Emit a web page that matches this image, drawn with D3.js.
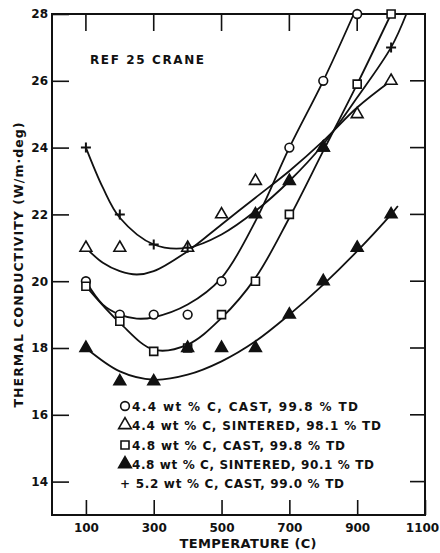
<!DOCTYPE html>
<html>
<head>
<meta charset="utf-8">
<script src="https://cdn.jsdelivr.net/npm/d3@7"></script>
<style>
  body { margin: 0; background: #fff; }
  text { font-family: "DejaVu Sans", sans-serif; fill: #111; }
</style>
</head>
<body>
<div id="my_dataviz"></div>
<script>
// tick values
var xTicks = [100, 300, 500, 700, 900, 1100]
var yTicks = [14, 16, 18, 20, 22, 24, 26, 28]

// measured points, [temperature, conductivity]
var cast44 = [[100,20],[200,19],[300,19],[400,19],[500,20],[700,24],[800,26],[900,28]]
var sint44 = [[100,21],[200,21],[400,21],[500,22],[600,23],[800,24],[900,25],[1000,26]]
var cast48 = [[100,19.85],[200,18.8],[300,17.9],[400,18],[500,19],[600,20],[700,22],[900,25.9],[1000,28]]
var sint48 = [[100,18],[200,17],[300,17],[400,18],[500,18],[600,18],[700,19],[800,20],[900,21],[1000,22],[600,22],[700,23],[800,24]]
var cast52 = [[100,24],[200,22],[300,21.1],[400,21],[1000,27]]

// hand drawn curves
var fitCast44 = [[100,20],[150,19.3],[200,19.0],[250,18.88],[300,18.92],[400,19.3],[500,20.1],[600,21.8],[700,24],[800,26],[890,28]]
var fitSint44 = [[100,21],[150,20.55],[200,20.3],[250,20.2],[300,20.3],[400,20.9],[500,21.7],[600,22.5],[700,23.3],[800,24.2],[900,25.2],[1000,26]]
var fitCast48 = [[100,19.85],[200,18.75],[300,17.95],[400,18.1],[500,18.9],[600,20.1],[700,21.9],[800,23.9],[900,25.9],[1000,28]]
var fitSint48 = [[100,18],[200,17.3],[300,17.05],[400,17.2],[500,17.6],[600,18.2],[700,19],[800,19.9],[900,20.9],[1000,22],[1020,22.25]]
var fitCast52 = [[100,24],[150,22.8],[200,21.9],[300,21.1],[400,21.0],[500,21.4],[600,22.1],[700,23],[800,24.1],[900,25.5],[1000,27],[1045,28]]

var legendLabels = [
  "4.4 wt % C, CAST, 99.8 % TD",
  "4.4 wt % C, SINTERED, 98.1 % TD",
  "4.8 wt % C, CAST, 99.8 % TD",
  "4.8 wt % C, SINTERED, 90.1 % TD",
  "+ 5.2 wt % C, CAST, 99.0 % TD"
]

var svg = d3.select("#my_dataviz").append("svg")
    .attr("width", 440)
    .attr("height", 553)

var pLeft = 52, pRight = 425, pTop = 14, pBottom = 515
var xs = d3.scaleLinear().domain([0, 1100]).range([pLeft, pRight])
var ys = d3.scaleLinear().domain([13, 28]).range([pBottom, pTop])

// frame
svg.append("rect")
    .attr("x", pLeft).attr("y", pTop)
    .attr("width", pRight - pLeft).attr("height", pBottom - pTop)
    .attr("fill", "none").attr("stroke", "#111").attr("stroke-width", 2)

// axes with inward ticks
var axB = svg.append("g").attr("transform", "translate(0," + pBottom + ")")
    .call(d3.axisBottom(xs).tickValues(xTicks).tickSizeOuter(0).tickFormat(d3.format("d")))
var axL = svg.append("g").attr("transform", "translate(" + pLeft + ",0)")
    .call(d3.axisLeft(ys).tickValues(yTicks).tickSizeOuter(0))

svg.selectAll(".domain").remove()
svg.selectAll(".tick line").attr("stroke", "#111").attr("stroke-width", 1.6)
svg.selectAll(".tick text")
    .style("font-family", "DejaVu Sans, sans-serif")
    .style("font-size", "12px")
    .style("font-weight", "bold")
    .attr("fill", "#111")
axB.selectAll(".tick line").attr("y2", -15)
axB.selectAll(".tick text").attr("y", 8).attr("dy", "0.71em")
    .attr("dx", function(d) { return d == 1100 ? -3 : 0 })
axL.selectAll(".tick line").attr("x2", 17)
axL.selectAll(".tick text").attr("x", -4)

// top and right tick marks
var topTicks = xTicks.filter(function(d) { return d < 1100 })
var rightTicks = yTicks.filter(function(d) { return d < 28 })
topTicks.forEach(function(d) {
    svg.append("rect")
        .attr("x", xs(d) - 0.8).attr("y", pTop)
        .attr("width", 1.6).attr("height", 17)
        .attr("fill", "#111")
})
rightTicks.forEach(function(d) {
    svg.append("rect")
        .attr("x", pRight - 15).attr("y", ys(d) - 0.8)
        .attr("width", 15).attr("height", 1.6)
        .attr("fill", "#111")
})

// axis titles
svg.append("text")
    .attr("x", 248).attr("y", 548)
    .attr("text-anchor", "middle")
    .style("font-size", "13px")
    .style("font-weight", "bold")
    .attr("textLength", 137)
    .text("TEMPERATURE (C)")
svg.append("text")
    .attr("transform", "translate(23,265) rotate(-90)")
    .attr("text-anchor", "middle")
    .style("font-size", "12.5px")
    .style("font-weight", "bold")
    .attr("textLength", 285)
    .text("THERMAL CONDUCTIVITY (W/m\u00B7deg)")

svg.append("text")
    .attr("x", 90).attr("y", 64)
    .style("font-size", "12px")
    .style("font-weight", "bold")
    .attr("textLength", 114)
    .text("REF 25 CRANE")

// curves
var line = d3.line()
    .x(function(d) { return xs(d[0]) })
    .y(function(d) { return ys(d[1]) })
    .curve(d3.curveCatmullRom.alpha(0.5))

var fits = [fitCast44, fitSint44, fitCast48, fitSint48, fitCast52]
svg.selectAll(".fit")
    .data(fits)
    .enter()
    .append("path")
    .attr("class", "fit")
    .attr("d", line)
    .attr("fill", "none")
    .attr("stroke", "#111")
    .attr("stroke-width", 1.8)

// marker shapes
function marker(kind) {
    if (kind == "circle") return d3.symbol().type(d3.symbolCircle).size(60)()
    if (kind == "square") return d3.symbol().type(d3.symbolSquare).size(64)()
    if (kind == "tri") return d3.symbol().type(d3.symbolTriangle).size(60)()
    return "M-5,0H5M0,-5V5"
}

var series = [
  { pts: cast44, kind: "circle", fill: "#fff" },
  { pts: sint44, kind: "tri", fill: "#fff" },
  { pts: cast48, kind: "square", fill: "#fff" },
  { pts: sint48, kind: "tri", fill: "#111" },
  { pts: cast52, kind: "plus", fill: "none" }
]

series.forEach(function(s) {
    svg.append("g").selectAll("path")
        .data(s.pts)
        .enter()
        .append("path")
        .attr("transform", function(d) { return "translate(" + xs(d[0]) + "," + ys(d[1]) + ")" })
        .attr("d", marker(s.kind))
        .attr("fill", s.fill)
        .attr("stroke", "#111")
        .attr("stroke-width", s.kind == "plus" ? 2 : 1.6)
})

// legend
var legendY = [406, 425, 445, 464, 483]
var legendW = [226, 249, 213, 242, 224]
var lg = svg.append("g")
legendLabels.forEach(function(label, i) {
    var s = series[i]
    if (s.kind != "plus") {
        lg.append("path")
            .attr("transform", "translate(125," + legendY[i] + ")")
            .attr("d", s.kind == "tri" ? d3.symbol().type(d3.symbolTriangle).size(70)() : marker(s.kind))
            .attr("fill", s.fill)
            .attr("stroke", "#111")
            .attr("stroke-width", 1.6)
    }
    lg.append("text")
        .attr("x", s.kind == "plus" ? 120 : 132)
        .attr("y", legendY[i] + 4.5)
        .style("font-size", "12px")
        .style("font-weight", "bold")
        .attr("textLength", legendW[i])
        .text(label)
})
</script>
</body>
</html>
